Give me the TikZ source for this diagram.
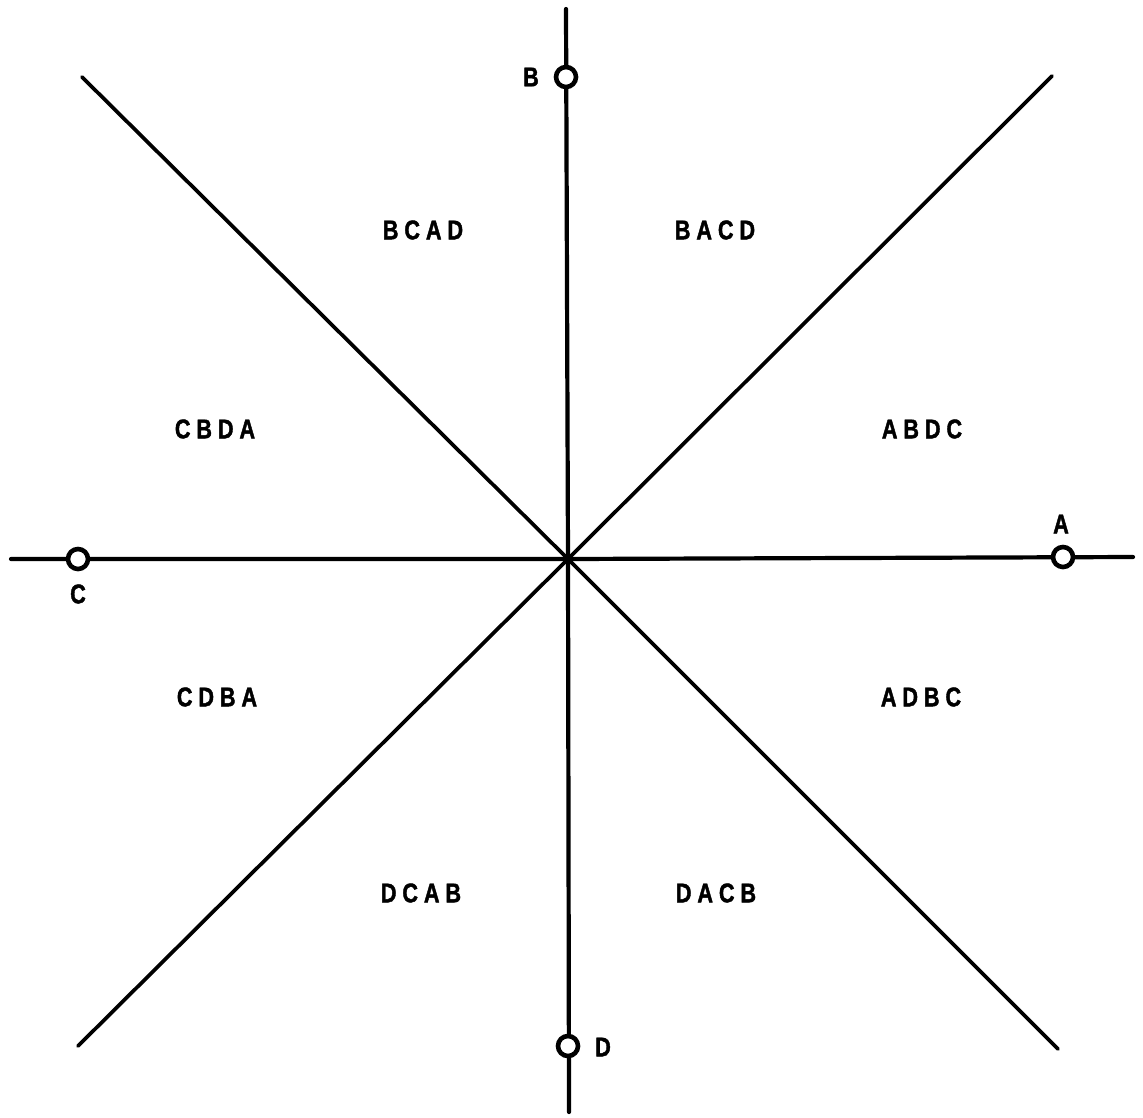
\documentclass[tikz,border=0pt]{standalone}
\usepackage{fontspec}
\newfontfamily\lbl{Liberation Sans}[FakeStretch=0.8,LetterSpace=22,FakeBold=1.5]
\begin{document}
\begin{tikzpicture}[x=1pt,y=-1pt,
  axis/.style={line width=4.2pt,line cap=round},
  diag/.style={line width=3.7pt,line cap=round},
  pnt/.style={circle,draw,fill=white,line width=4.6pt,minimum size=20pt,inner sep=0pt},
  region/.style={font=\lbl\bfseries\fontsize{27}{27}\selectfont,inner sep=0pt},
  plabel/.style={font=\lbl\bfseries\fontsize{27}{27}\selectfont,inner sep=0pt}]
\useasboundingbox[fill=white] (0,0) rectangle (1143,1117);
% ends of the lines
\coordinate (O) at (568,559);
\coordinate (vt) at (566,9);
\coordinate (vb) at (569,1112);
\coordinate (hl) at (11,559);
\coordinate (hr) at (1133,557);
\coordinate (d1a) at (82,77);
\coordinate (d1b) at (1058,1049);
\coordinate (d2a) at (1052,76);
\coordinate (d2b) at (78,1046);
% lines
\draw[axis] (vt) -- (O) -- (vb);
\draw[axis] (hl) -- (O) -- (hr);
\draw[diag] (d1a) -- (O) -- (d1b);
\draw[diag] (d2a) -- (O) -- (d2b);
\fill (O) circle (4pt);
% points
\node[pnt] (B) at (566,77) {};
\node[pnt] (D) at (568,1046) {};
\node[pnt] (C) at (78,559) {};
\node[pnt] (A) at (1063,557) {};
\node[plabel] (lB) at (531,77) {B};
\node[plabel] (lD) at (603,1047) {D};
\node[plabel] (lC) at (78,594) {C};
\node[plabel] (lA) at (1061,524) {A};
% regions
\node[region] (r1) at (423,230) {BCAD};
\node[region] (r2) at (715,230) {BACD};
\node[region] (r3) at (215,429) {CBDA};
\node[region] (r4) at (922,429) {ABDC};
\node[region] (r5) at (217,697) {CDBA};
\node[region] (r6) at (921,697) {ADBC};
\node[region] (r7) at (421,893) {DCAB};
\node[region] (r8) at (716,893) {DACB};
\end{tikzpicture}
\end{document}
